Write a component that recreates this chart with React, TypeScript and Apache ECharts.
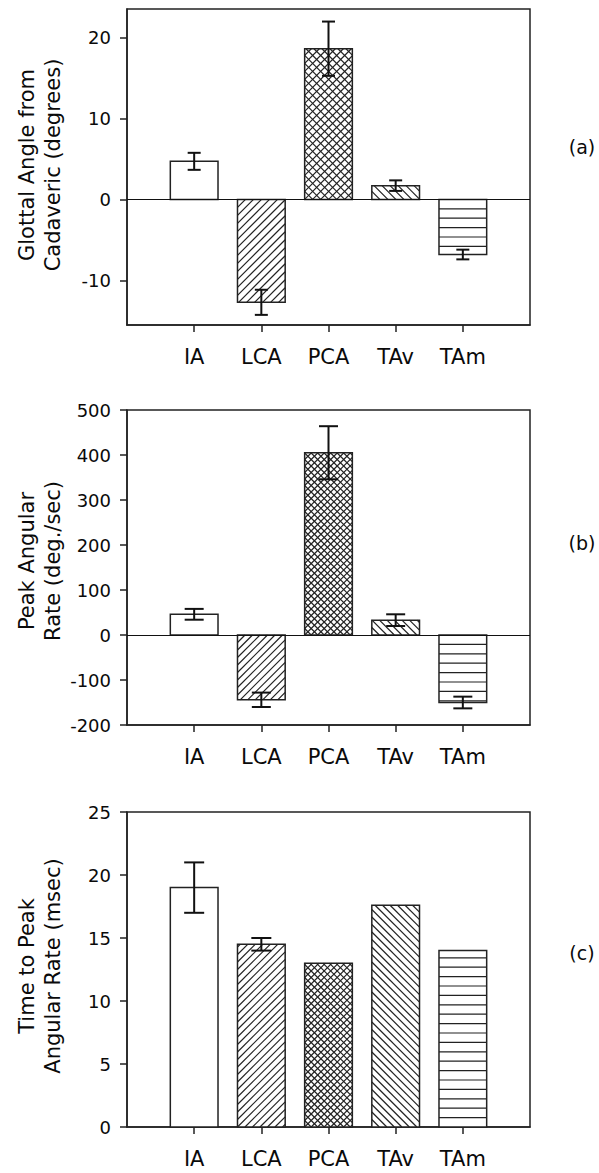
import React, { useEffect, useRef } from 'react';
import * as echarts from 'echarts';

// ---- data ----
const CATEGORIES = ['IA', 'LCA', 'PCA', 'TAv', 'TAm'];
const AXIS_CATEGORIES = ['', ...CATEGORIES, ''];

const ANGLE_VALUES = [4.7, -12.7, 18.6, 1.7, -6.8];
const ANGLE_ERRORS = [1.05, 1.55, 3.35, 0.65, 0.6];
const RATE_VALUES = [46, -144, 405, 33, -150];
const RATE_ERRORS = [12, 16, 59, 13, 13];
const TIME_VALUES = [19.0, 14.5, 13.0, 17.6, 14.0];
const TIME_ERRORS = [2.0, 0.5, 0, 0, 0];

const ANGLE_TICKS = [-10, 0, 10, 20];
const RATE_TICKS = [-200, -100, 0, 100, 200, 300, 400, 500];
const TIME_TICKS = [0, 5, 10, 15, 20, 25];

const ANGLE_RANGE = [-15.5, 23.5];
const RATE_RANGE = [-200, 500];
const TIME_RANGE = [0, 25];

const ANGLE_TITLE = 'Glottal Angle from\nCadaveric (degrees)';
const RATE_TITLE = 'Peak Angular\nRate (deg./sec)';
const TIME_TITLE = 'Time to Peak\nAngular Rate (msec)';
const PANEL_LABELS = ['(a)', '(b)', '(c)'];

// fill pattern of each category's bar
const PATTERNS = ['none', 'fwd', 'cross', 'back', 'horiz'];

// ---- style ----
const FONT = 'DejaVu Sans';
const INK = '#0a0a0a';

const PANELS = [
  { top: 9, height: 316, values: ANGLE_VALUES, errors: ANGLE_ERRORS, ticks: ANGLE_TICKS, range: ANGLE_RANGE, title: ANGLE_TITLE, titleY: 165, labelY: 147, cap: 6.5, diag: 8, cross: 8, zero: true },
  { top: 410, height: 315, values: RATE_VALUES, errors: RATE_ERRORS, ticks: RATE_TICKS, range: RATE_RANGE, title: RATE_TITLE, titleY: 561, labelY: 543, cap: 9.5, diag: 7.5, cross: 6.5, zero: true },
  { top: 812, height: 315, values: TIME_VALUES, errors: TIME_ERRORS, ticks: TIME_TICKS, range: TIME_RANGE, title: TIME_TITLE, titleY: 966, labelY: 953, cap: 10, diag: 7.5, cross: 6.5, zero: false },
];

function hatch(kind: string, x0: number, y0: number, x1: number, y1: number, s: number, anchorY: number) {
  const segs: number[][] = [];
  const diag = (dir: number) => {
    if (dir === 1) {
      // lines x + y = c  ("/")
      const c0 = x0 + anchorY;
      const cMin = x0 + y0, cMax = x1 + y1;
      const k = Math.ceil((cMin - c0) / s);
      for (let c = c0 + k * s; c < cMax; c += s) {
        if (c <= cMin + 0.5) continue;
        const xa = Math.max(x0, c - y1), xb = Math.min(x1, c - y0);
        if (xb - xa > 0.3) segs.push([xa, c - xa, xb, c - xb]);
      }
    } else {
      // lines x - y = c  ("\")
      const c0 = x0 - anchorY;
      const cMin = x0 - y1, cMax = x1 - y0;
      const k = Math.ceil((cMin - c0) / s);
      for (let c = c0 + k * s; c < cMax; c += s) {
        if (c <= cMin + 0.5) continue;
        const xa = Math.max(x0, y0 + c), xb = Math.min(x1, y1 + c);
        if (xb - xa > 0.3) segs.push([xa, xa - c, xb, xb - c]);
      }
    }
  };
  if (kind === 'fwd') diag(1);
  if (kind === 'back') diag(-1);
  if (kind === 'cross') { diag(1); diag(-1); }
  if (kind === 'horiz') {
    const step = 9.4;
    const k0 = Math.ceil((y0 - anchorY) / step);
    for (let y = anchorY + k0 * step; y < y1; y += step) {
      if (y <= y0 + 1 || y >= y1 - 1) continue;
      segs.push([x0, y, x1, y]);
    }
  }
  return segs;
}

function makeRenderItem(p: any) {
  return (params: any, api: any) => {
    const i = params.dataIndex;
    const xi = api.value(0);
    const v = api.value(1);
    const e = api.value(2);
    const base = api.coord([xi, 0]);
    const top = api.coord([xi, v]);
    const band = api.size([1, 0])[0];
    const w = band * 0.71;
    const x0 = base[0] - w / 2, x1 = base[0] + w / 2;
    const y0 = Math.min(base[1], top[1]), y1 = Math.max(base[1], top[1]);
    const kind = PATTERNS[i];
    const children: any[] = [];
    children.push({ type: 'rect', shape: { x: x0, y: y0, width: w, height: y1 - y0 }, style: { fill: '#fff' } });
    const sp = kind === 'cross' ? p.cross : p.diag;
    hatch(kind, x0, y0, x1, y1, sp, base[1]).forEach((s) => {
      children.push({ type: 'line', shape: { x1: s[0], y1: s[1], x2: s[2], y2: s[3] }, style: { stroke: '#222', lineWidth: 1.2 } });
    });
    children.push({ type: 'rect', shape: { x: x0, y: y0, width: w, height: y1 - y0 }, style: { fill: 'none', stroke: '#222', lineWidth: 1.5 } });
    if (e > 0) {
      const hi = api.coord([xi, v + e]);
      const lo = api.coord([xi, v - e]);
      const cx = base[0];
      const st = { stroke: '#111', lineWidth: 2 };
      children.push({ type: 'line', shape: { x1: cx, y1: hi[1], x2: cx, y2: lo[1] }, style: st });
      children.push({ type: 'line', shape: { x1: cx - p.cap, y1: hi[1], x2: cx + p.cap, y2: hi[1] }, style: st });
      children.push({ type: 'line', shape: { x1: cx - p.cap, y1: lo[1], x2: cx + p.cap, y2: lo[1] }, style: st });
    }
    return { type: 'group', children };
  };
}

export default function App() {
  const ref = useRef<HTMLDivElement>(null);
  useEffect(() => {
    if (!ref.current) return;
    const chart = echarts.init(ref.current, undefined, { renderer: 'svg' });
    const showCat = (_idx: number, val: string) => val !== '';
    const option: any = {
      animation: false,
      backgroundColor: '#fff',
      grid: PANELS.map((p) => ({ left: 127, width: 403, top: p.top, height: p.height, show: true, borderColor: '#222', borderWidth: 1.5, backgroundColor: 'transparent' })),
      xAxis: PANELS.map((_p, i) => ({
        gridIndex: i,
        type: 'category',
        data: AXIS_CATEGORIES,
        boundaryGap: false,
        axisLine: { show: true, onZero: false, lineStyle: { color: '#222', width: 1.5 } },
        axisTick: { show: true, length: 7, interval: showCat, lineStyle: { color: '#222', width: 1.5 } },
        axisLabel: { interval: showCat, margin: 21, fontFamily: FONT, fontSize: 21, color: INK },
        splitLine: { show: false },
      })),
      yAxis: PANELS.map((p, i) => ({
        gridIndex: i,
        type: 'value',
        min: p.range[0],
        max: p.range[1],
        axisLine: { show: true, onZero: false, lineStyle: { color: '#222', width: 1.5 } },
        axisTick: { show: true, length: 7, customValues: p.ticks, lineStyle: { color: '#222', width: 1.5 } },
        axisLabel: { customValues: p.ticks, margin: 16, fontFamily: FONT, fontSize: 18, color: INK },
        splitLine: { show: false },
      })),
      series: [
        ...PANELS.map((p, i) => ({
          type: 'custom',
          xAxisIndex: i,
          yAxisIndex: i,
          z: 3,
          encode: { x: 0, y: 1 },
          data: p.values.map((v, k) => [k + 1, v, p.errors[k]]),
          renderItem: makeRenderItem(p),
        })),
        ...PANELS.filter((p) => p.zero).map((p) => {
          const i = PANELS.indexOf(p);
          return {
            type: 'line',
            xAxisIndex: i,
            yAxisIndex: i,
            z: 2,
            data: [],
            markLine: {
              silent: true,
              symbol: ['none', 'none'],
              label: { show: false },
              lineStyle: { color: '#111', width: 1, type: 'solid' },
              data: [{ yAxis: 0 }],
            },
          };
        }),
      ],
      graphic: [
        ...PANELS.map((p) => ({
          type: 'text',
          x: 40,
          y: p.titleY,
          rotation: Math.PI / 2,
          style: { text: p.title, fontFamily: FONT, fontSize: 21, fill: INK, align: 'center', verticalAlign: 'middle', lineHeight: 26 },
        })),
        ...PANELS.map((p, i) => ({
          type: 'text',
          x: 582,
          y: p.labelY,
          style: { text: PANEL_LABELS[i], fontFamily: FONT, fontSize: 19, fill: INK, align: 'center', verticalAlign: 'middle' },
        })),
      ],
    };
    chart.setOption(option);
    return () => chart.dispose();
  }, []);
  return <div ref={ref} style={{ position: 'absolute', left: 0, top: 0, width: 599, height: 1173 }} />;
}
